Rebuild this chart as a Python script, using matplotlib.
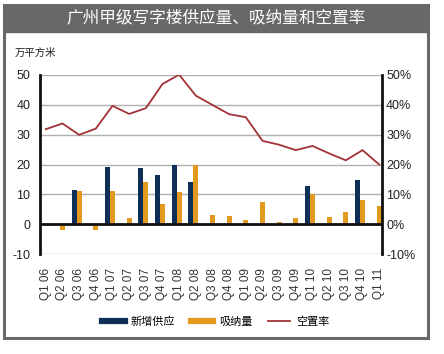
import matplotlib
matplotlib.use("Agg")
import matplotlib.pyplot as plt
from matplotlib.patches import Rectangle
from matplotlib.lines import Line2D
import numpy as np

plt.rcParams['font.family'] = ['Liberation Sans', 'Noto Sans CJK SC', 'DejaVu Sans']

quarters = ["Q1 06", "Q2 06", "Q3 06", "Q4 06", "Q1 07", "Q2 07", "Q3 07", "Q4 07",
            "Q1 08", "Q2 08", "Q3 08", "Q4 08", "Q1 09", "Q2 09", "Q3 09", "Q4 09",
            "Q1 10", "Q2 10", "Q3 10", "Q4 10", "Q1 11"]
new_supply = [0, 0, 11.6, 0, 19.3, 0, 18.7, 16.6, 19.9, 14.2, 0, 0, 0, 0, 0, 0,
              12.9, 0, 0, 14.9, 0]
absorption = [0, -2.0, 11.2, -2.0, 11.2, 2.0, 14.2, 6.9, 10.9, 19.9, 3.2, 2.7, 1.6, 7.6,
              0.9, 2.2, 10.2, 2.6, 4.2, 8.2, 6.3]
vacancy = [31.8, 33.7, 29.9, 32.0, 39.6, 36.9, 38.8, 46.9, 50.0, 43.0, 39.9, 36.8, 35.8,
           27.9, 26.6, 24.8, 26.2, 23.7, 21.4, 24.8, 20.0]
left_ticks = [-10, 0, 10, 20, 30, 40, 50]
right_ticks = ["-10%", "0%", "10%", "20%", "30%", "40%", "50%"]

c_supply = "#0e2f56"
c_abs = "#e29a1e"
c_vac = "#a33238"

W, H = 444, 354
fig = plt.figure(figsize=(W / 100, H / 100), dpi=100)

# outer frame
fx0, fx1 = 4 / W, 428 / W
fy0, fy1 = 1 - 338 / H, 1 - 5 / H
fig.patches.append(Rectangle((fx0, fy0), fx1 - fx0, fy1 - fy0, transform=fig.transFigure,
                             facecolor="white", edgecolor="#6a6a6a", linewidth=2.2, zorder=-3))
tb0 = 1 - 32 / H
fig.patches.append(Rectangle((fx0, tb0), fx1 - fx0, fy1 - tb0, transform=fig.transFigure,
                             facecolor="#686868", edgecolor="#686868", linewidth=1, zorder=-2))
fig.text((fx0 + fx1) / 2, (tb0 + fy1) / 2, "广州甲级写字楼供应量、吸纳量和空置率",
         color="white", fontsize=12, ha="center", va="center",
         family=['Noto Sans CJK SC', 'DejaVu Sans'])
fig.text(15 / W, 1 - 53 / H, "万平方米", fontsize=7.5, ha="left", va="center",
         family=['Noto Sans CJK SC', 'DejaVu Sans'], color="#222222")

ax = fig.add_axes([40 / W, 1 - 254.3 / H, (382 - 40) / W, (254.3 - 74.7) / H])
ax.patch.set_alpha(0)
x = np.arange(len(quarters))
bw = 0.3
ax.bar(x - bw, new_supply, width=bw, color=c_supply, zorder=3)
ax.bar(x, absorption, width=bw, color=c_abs, zorder=3)

ax.set_ylim(-10, 50)
ax.set_xlim(-0.35, 20.17)
ax.set_yticks(left_ticks)
ax.set_yticklabels([str(t) for t in left_ticks], fontsize=9, color="#222222")
ax.grid(axis="y", color="#b0b0b0", linewidth=1, zorder=0)
ax.set_xticks(x)
ax.set_xticklabels(quarters, rotation=90, fontsize=8.5, color="#333333")
ax.tick_params(axis="x", length=0, pad=10)
ax.tick_params(axis="y", length=0, pad=7)
ax.axhline(0, color="#111111", linewidth=2, zorder=4)
for s in ["top", "bottom"]:
    ax.spines[s].set_visible(False)
ax.spines["left"].set_linewidth(2)
ax.spines["left"].set_color("#111111")
ax.spines["right"].set_visible(False)

ax2 = ax.twinx()
ax2.patch.set_alpha(0)
ax2.plot(x, vacancy, color=c_vac, linewidth=1.3, zorder=5)
ax2.set_ylim(-10, 50)
ax2.set_yticks(left_ticks)
ax2.set_yticklabels(right_ticks, fontsize=9, color="#222222")
ax2.tick_params(axis="y", length=0, pad=3)
for s in ["top", "bottom", "left"]:
    ax2.spines[s].set_visible(False)
ax2.spines["right"].set_linewidth(2)
ax2.spines["right"].set_color("#111111")

handles = [Line2D([0], [0], color=c_supply, linewidth=4.5),
           Line2D([0], [0], color=c_abs, linewidth=4.5),
           Line2D([0], [0], color=c_vac, linewidth=1.3)]
fig.legend(handles, ["新增供应", "吸纳量", "空置率"], loc="center",
           bbox_to_anchor=(216 / W, 1 - 322 / H), ncol=3, frameon=False,
           prop={'family': ['Noto Sans CJK SC', 'DejaVu Sans'], 'size': 8},
           handlelength=2.0, columnspacing=1.4, handletextpad=0.55)

fig.savefig("out.png", dpi=100)
